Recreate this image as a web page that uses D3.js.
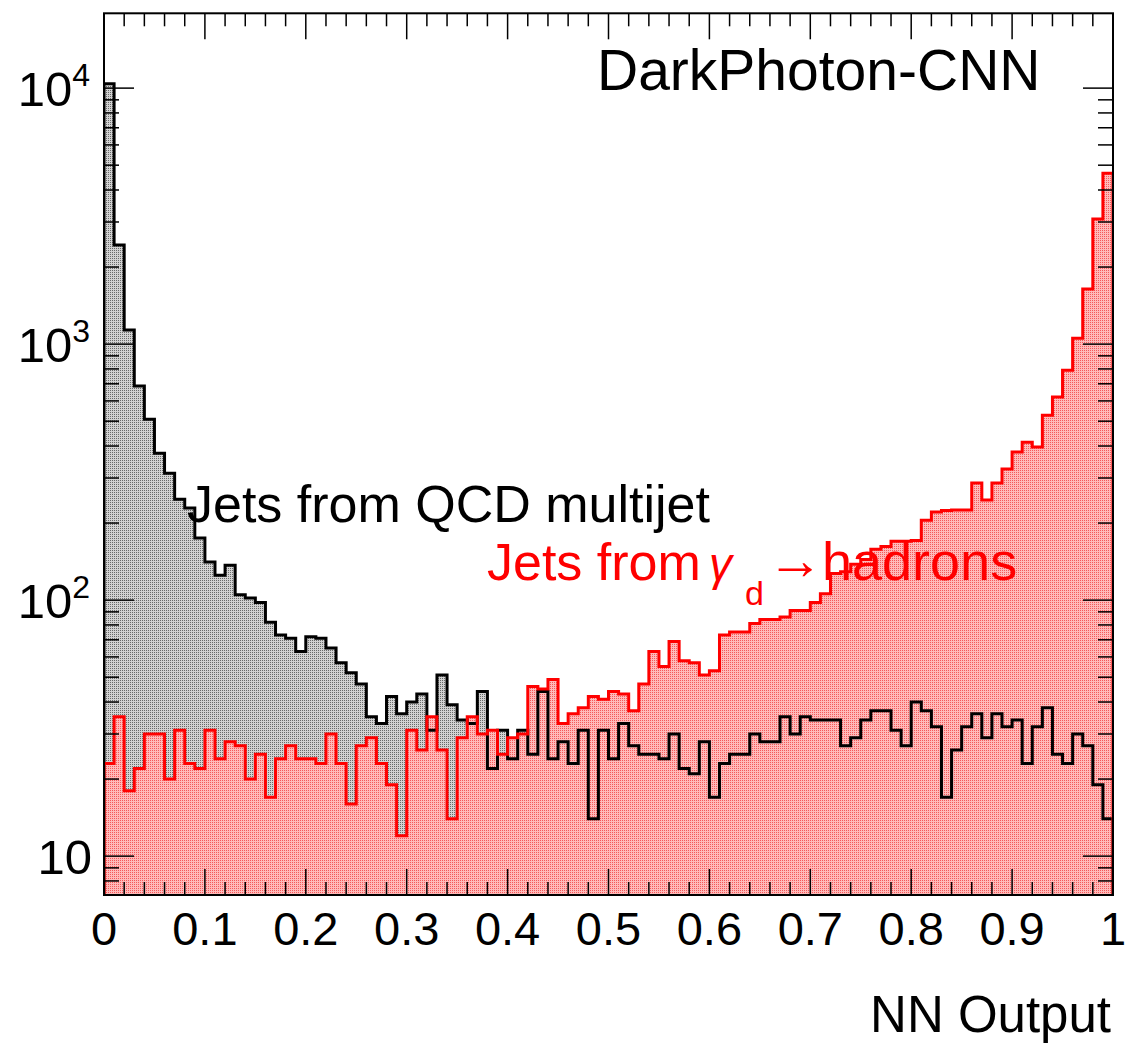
<!DOCTYPE html>
<html>
<head>
<meta charset="utf-8">
<script src="https://cdn.jsdelivr.net/npm/d3@7"></script>
<style>
  body { margin: 0; background: #fff; }
  text { font-family: "Liberation Sans", Arial, Helvetica, sans-serif; }
</style>
</head>
<body>
<svg id="chart" width="1127" height="1043"></svg>
<script>
// NN output histograms, 100 equal bins on [0, 1]
const nBins = 100;
const xRange = [0, 1];

// Jets from QCD multijet events (black)
const qcdCounts = [
  10400, 2440, 1135, 686, 509, 375, 313, 248, 229, 175,
  141, 125, 137, 105, 102, 98, 82, 73, 71, 63,
  72, 71, 65, 57, 52, 47, 35, 33, 42, 36,
  40, 43, 31, 51, 39, 34, 33, 44, 22, 31,
  24, 31, 25, 44, 24, 28, 23, 31, 14, 31,
  24, 33, 27, 25, 25, 24, 30, 22, 21, 28,
  17, 23, 25, 25, 30, 28, 28, 35, 30, 35,
  34, 34, 34, 27, 29, 34, 37, 37, 31, 27,
  40, 37, 32, 17, 26, 32, 36, 29, 36, 32,
  34, 23, 32, 38, 25, 23, 30, 27, 19, 14
];

// Jets from dark photon -> hadrons (red)
const darkPhotonCounts = [
  23, 35, 18, 22, 30, 30, 20, 31, 23, 22,
  31, 24, 28, 27, 20, 25, 17, 24, 27, 24,
  24, 23, 30, 23, 16, 27, 29, 23, 19, 12,
  31, 26, 35, 26, 14, 29, 35, 30, 31, 25,
  29, 30, 46, 45, 49, 33, 36, 38, 42, 41,
  44, 43, 37, 47, 63, 55, 69, 58, 57, 51,
  53, 73, 75, 75, 81, 84, 84, 86, 91, 91,
  98, 106, 127, 129, 138, 144, 158, 162, 170, 170,
  171, 205, 221, 224, 225, 225, 287, 246, 287, 325,
  379, 414, 396, 528, 621, 791, 1055, 1640, 3080, 4650
];

const xMajorTicks = [0, 0.1, 0.2, 0.3, 0.4, 0.5, 0.6, 0.7, 0.8, 0.9, 1];
const xTickLabels = ["0", "0.1", "0.2", "0.3", "0.4", "0.5", "0.6", "0.7", "0.8", "0.9", "1"];
const yDecades = [10, 100, 1000, 10000];
const yDecadeExponents = ["", "2", "3", "4"];
const yDomain = [7.05, 19600];

const svg = d3.select("#chart");
const frame = { left: 104, right: 1113, top: 13.3, bottom: 895 };

const x = d3.scaleLinear().domain(xRange).range([frame.left, frame.right]);
const y = d3.scaleLog().domain(yDomain).range([frame.bottom, frame.top]);

// stippled fill patterns: a light tint with a darker dot grid
const defs = svg.append("defs");
function dotPattern(id, tint, dot) {
  const p = defs.append("pattern").attr("id", id)
    .attr("patternUnits", "userSpaceOnUse").attr("width", 2).attr("height", 2);
  p.append("rect").attr("width", 2).attr("height", 2).attr("fill", tint).attr("shape-rendering", "crispEdges");
  p.append("rect").attr("width", 1).attr("height", 1).attr("fill", dot).attr("shape-rendering", "crispEdges");
}
dotPattern("dotsBlack", "#d2d2d2", "#6a6a6a");
dotPattern("dotsRed", "#ffbaba", "#f45a5a");

const binWidth = (xRange[1] - xRange[0]) / nBins;
const plot = svg.append("g");
plot.append("clipPath").attr("id", "plotClip").append("rect")
  .attr("x", frame.left).attr("y", frame.top)
  .attr("width", frame.right - frame.left).attr("height", frame.bottom - frame.top);

function stepPoints(counts) {
  const pts = [[x(xRange[0]), frame.bottom]];
  counts.forEach((c, i) => {
    const lo = xRange[0] + i * binWidth, hi = lo + binWidth;
    pts.push([x(lo), y(c)], [x(hi), y(c)]);
  });
  pts.push([x(xRange[1]), frame.bottom]);
  return pts;
}
const line = d3.line();

const fillLayer = plot.append("g").attr("clip-path", "url(#plotClip)");
const lineLayer = plot.append("g").attr("clip-path", "url(#plotClip)");

function drawHist(counts, color, patternId) {
  const pts = stepPoints(counts);
  fillLayer.append("path").attr("d", line(pts) + "Z").attr("fill", `url(#${patternId})`).attr("stroke", "none");
  lineLayer.append("path").attr("d", line(pts)).attr("fill", "none")
    .attr("stroke", color).attr("stroke-width", 3).attr("stroke-linejoin", "miter");
}

drawHist(qcdCounts, "#000", "dotsBlack");
drawHist(darkPhotonCounts, "#ff0000", "dotsRed");

// frame
svg.append("rect").attr("x", frame.left).attr("y", frame.top)
  .attr("width", frame.right - frame.left).attr("height", frame.bottom - frame.top)
  .attr("fill", "none").attr("stroke", "#000").attr("stroke-width", 2);

// x ticks, bottom and top
const xMinor = d3.range(0, 51).map(i => i * 0.02);
const tickG = svg.append("g").attr("stroke", "#000").attr("stroke-width", 1.5);
xMinor.forEach(v => {
  const major = Math.abs(v * 10 - Math.round(v * 10)) < 1e-6;
  const len = major ? 26 : 13;
  tickG.append("line").attr("x1", x(v)).attr("x2", x(v)).attr("y1", frame.bottom).attr("y2", frame.bottom - len);
  tickG.append("line").attr("x1", x(v)).attr("x2", x(v)).attr("y1", frame.top).attr("y2", frame.top + len);
});

// y ticks, left and right
const yTicks = [];
for (let e = 0; e <= 4; e++) {
  for (let m = 1; m <= 9; m++) {
    const v = m * Math.pow(10, e);
    if (v >= yDomain[0] && v <= yDomain[1]) yTicks.push({ v, major: m === 1 });
  }
}
yTicks.forEach(t => {
  const len = t.major ? 30 : 15;
  tickG.append("line").attr("x1", frame.left).attr("x2", frame.left + len).attr("y1", y(t.v)).attr("y2", y(t.v));
  tickG.append("line").attr("x1", frame.right).attr("x2", frame.right - len).attr("y1", y(t.v)).attr("y2", y(t.v));
});

// x tick labels
svg.append("g").selectAll("text").data(xMajorTicks).join("text")
  .attr("x", d => x(d)).attr("y", 945)
  .attr("text-anchor", "middle").attr("font-size", 47).attr("fill", "#000")
  .text((d, i) => xTickLabels[i]);

// y tick labels
yDecades.forEach((v, i) => {
  const t = svg.append("text").attr("y", y(v) + 18).attr("font-size", 49).attr("fill", "#000")
    .attr("text-anchor", "end");
  if (yDecadeExponents[i] === "") {
    t.attr("x", 92).text("10");
  } else {
    t.attr("x", 90);
    t.append("tspan").text("10");
    t.append("tspan").attr("font-size", 32).attr("dy", -20).text(yDecadeExponents[i]);
  }
});

// axis title
svg.append("text").attr("x", 1111).attr("y", 1032).attr("text-anchor", "end")
  .attr("font-size", 51).attr("fill", "#000").text("NN Output");

// annotations
svg.append("text").attr("x", 597).attr("y", 90).attr("font-size", 57).attr("fill", "#000")
  .text("DarkPhoton-CNN");
svg.append("text").attr("x", 187).attr("y", 522).attr("font-size", 52).attr("fill", "#000")
  .text("Jets from QCD multijet");

const sig = svg.append("g").attr("fill", "#ff0000").attr("font-size", 52);
sig.append("text").attr("x", 487).attr("y", 580).text("Jets from");
sig.append("text").attr("x", 709).attr("y", 580).attr("font-family", "DejaVu Serif").attr("font-style", "italic")
  .attr("font-size", 46).text("\u03b3");
sig.append("text").attr("x", 745).attr("y", 605).attr("font-size", 34).text("d");
sig.append("text").attr("x", 767).attr("y", 579).attr("font-family", "DejaVu Sans").attr("font-size", 56).text("\u2192");
sig.append("text").attr("x", 822).attr("y", 580).attr("font-size", 54).text("hadrons");
</script>
</body>
</html>
